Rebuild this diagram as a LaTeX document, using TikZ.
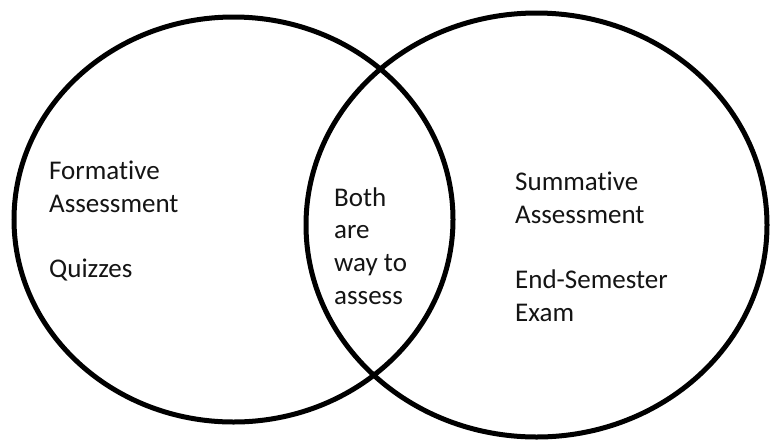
\documentclass[tikz,border=0pt]{standalone}
\usepackage{fontspec}
\setmainfont[Ligatures=NoCommon]{Carlito}
\usetikzlibrary{shapes.geometric}
\begin{document}
\begin{tikzpicture}[x=1pt,y=-1pt,
  setring/.style={draw=black, ellipse, line width=5pt, inner sep=0pt},
  setlabel/.style={anchor=base west, inner sep=0pt, align=left,
    font=\fontsize{27}{32.6}\selectfont, text=black!92}]
\useasboundingbox (0,0) rectangle (770,440);
\fill[white] (0,0) rectangle (770,440);

% the two overlapping sets
\node[setring, minimum width=439pt, minimum height=405pt] (formative) at (233.5,219.5) {};
\node[setring, minimum width=461pt, minimum height=424pt] (summative) at (536.5,225) {};

% labels of each region (placed by the baseline of their last line)
\node[setlabel] (lefttext) at (49,277.5) {Formative\\Assessment\\[32.6pt]Quizzes};
\node[setlabel] (midtext) at (334,304) {Both\\are\\way to\\assess};
\node[setlabel] (righttext) at (515,321) {Summative\\Assessment\\[32.6pt]End-Semester\\Exam};
\end{tikzpicture}
\end{document}
